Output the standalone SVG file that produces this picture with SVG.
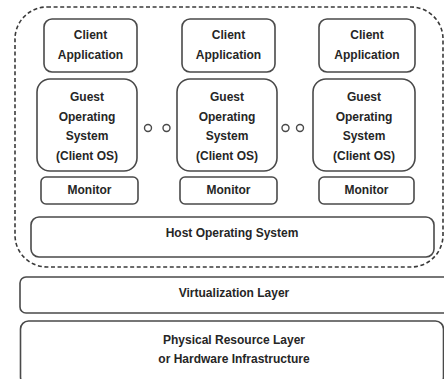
<svg xmlns="http://www.w3.org/2000/svg" width="444" height="379" viewBox="0 0 444 379">
<style>
.box{fill:#fff;stroke:#4a4a4a;stroke-width:1.6}
.lbl{font-family:"Liberation Sans",Arial,sans-serif;font-weight:bold;font-size:12px;fill:#262626;text-anchor:middle}
.dash{fill:none;stroke:#3a3a3a;stroke-width:1.6;stroke-dasharray:4 2.6}
.dot{fill:#fff;stroke:#4a4a4a;stroke-width:1.4}
</style>
<rect width="444" height="379" fill="#fff"/>
<g id="host-container">
<rect class="dash" x="15" y="7" width="428" height="260" rx="32"/>
</g>
<g id="client-app-1"><rect class="box" x="44" y="19" width="93" height="53" rx="8"/><text class="lbl" x="90.5" y="39">Client</text><text class="lbl" x="90.5" y="59">Application</text></g>
<g id="client-app-2"><rect class="box" x="182" y="19" width="93" height="53" rx="8"/><text class="lbl" x="228.5" y="39">Client</text><text class="lbl" x="228.5" y="59">Application</text></g>
<g id="client-app-3"><rect class="box" x="319" y="19" width="96" height="53" rx="8"/><text class="lbl" x="367" y="39">Client</text><text class="lbl" x="367" y="59">Application</text></g>
<g id="guest-os-1"><rect class="box" x="37" y="79" width="100" height="92" rx="13"/><text class="lbl" x="87" y="101">Guest</text><text class="lbl" x="87" y="121">Operating</text><text class="lbl" x="87" y="140">System</text><text class="lbl" x="87" y="160">(Client OS)</text></g>
<g id="guest-os-2"><rect class="box" x="177" y="79" width="100" height="92" rx="13"/><text class="lbl" x="227" y="101">Guest</text><text class="lbl" x="227" y="121">Operating</text><text class="lbl" x="227" y="140">System</text><text class="lbl" x="227" y="160">(Client OS)</text></g>
<g id="guest-os-3"><rect class="box" x="313" y="79" width="102" height="92" rx="13"/><text class="lbl" x="364" y="101">Guest</text><text class="lbl" x="364" y="121">Operating</text><text class="lbl" x="364" y="140">System</text><text class="lbl" x="364" y="160">(Client OS)</text></g>
<g id="ellipsis">
<circle class="dot" cx="148" cy="128" r="3.5"/><circle class="dot" cx="166.5" cy="128" r="3.5"/>
<circle class="dot" cx="285.5" cy="128" r="3.5"/><circle class="dot" cx="300" cy="128" r="3.5"/>
</g>
<g id="monitor-1"><rect class="box" x="41" y="177" width="97" height="27" rx="5"/><text class="lbl" x="89.5" y="194">Monitor</text></g>
<g id="monitor-2"><rect class="box" x="180" y="177" width="97" height="27" rx="5"/><text class="lbl" x="228.5" y="194">Monitor</text></g>
<g id="monitor-3"><rect class="box" x="319" y="177" width="95" height="27" rx="5"/><text class="lbl" x="366.5" y="194">Monitor</text></g>
<g id="host-os"><rect class="box" x="31" y="217" width="403" height="40" rx="8"/><text class="lbl" x="232" y="237">Host Operating System</text></g>
<g id="virtualization-layer"><rect class="box" x="20" y="277" width="440" height="36" rx="6" stroke-width="2"/><text class="lbl" x="234" y="297">Virtualization Layer</text></g>
<g id="physical-layer"><rect class="box" x="20.5" y="321" width="423" height="64" rx="8"/><text class="lbl" x="234" y="344">Physical Resource Layer</text><text class="lbl" x="234" y="363">or Hardware Infrastructure</text></g>
<g id="connectors"></g>
</svg>
